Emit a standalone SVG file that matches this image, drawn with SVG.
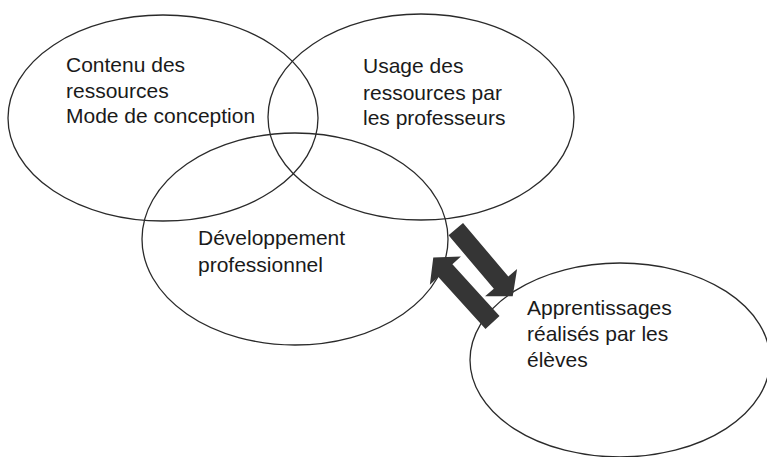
<svg xmlns="http://www.w3.org/2000/svg" width="767" height="457" viewBox="0 0 767 457">
<style>
.e{fill:none;stroke:#2a2a2a;stroke-width:1.3}
.t{font-family:"Liberation Sans",Arial,sans-serif;font-size:21px;fill:#1a1a1a}
.a{fill:#353535}
</style>
<defs>
<polygon id="arr" points="0,-9.5 70,-9.5 70,-21 88,0 70,21 70,9.5 0,9.5"/>
</defs>
<rect width="767" height="457" fill="#fff"/>
<g id="contenu">
<ellipse class="e" cx="163" cy="118" rx="155" ry="103"/>
<text class="t" x="66" y="72">Contenu des</text>
<text class="t" x="66" y="98">ressources</text>
<text class="t" x="66" y="123">Mode de conception</text>
</g>
<g id="usage">
<ellipse class="e" cx="421" cy="117" rx="153" ry="103"/>
<text class="t" x="363" y="73">Usage des</text>
<text class="t" x="363" y="100">ressources par</text>
<text class="t" x="363" y="125">les professeurs</text>
</g>
<g id="developpement">
<ellipse class="e" cx="295" cy="239" rx="153" ry="106"/>
<text class="t" x="198" y="245">Développement</text>
<text class="t" x="198" y="272">professionnel</text>
</g>
<g id="apprentissages">
<ellipse class="e" cx="620" cy="360" rx="150" ry="97"/>
<text class="t" x="527" y="315">Apprentissages</text>
<text class="t" x="527" y="341">réalisés par les</text>
<text class="t" x="527" y="367">élèves</text>
</g>
<g id="connectors">
<use href="#arr" class="a" transform="translate(455.8,229.2) rotate(49.7)"/>
<use href="#arr" class="a" transform="translate(492.5,322.5) rotate(227.7)"/>
</g>
</svg>
